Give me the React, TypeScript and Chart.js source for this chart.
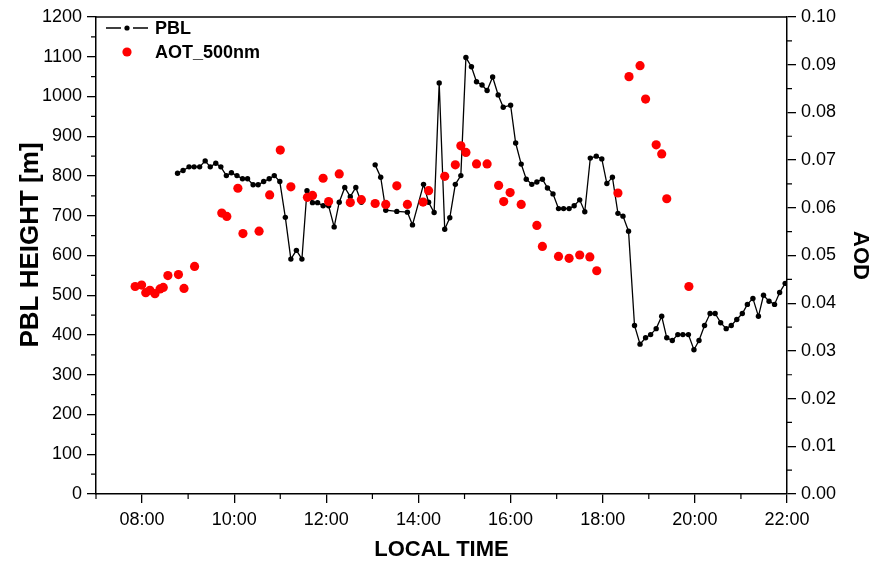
import React, { useEffect, useRef } from 'react';
import { Chart, registerables } from 'chart.js';

Chart.register(...registerables);

// PBL height (m) vs local time (decimal hours); null = gap in record
const pblTime = [
  8.77, 8.89, 9.02, 9.13, 9.25, 9.37, 9.48, 9.6, 9.71, 9.83, 9.94, 10.06, 10.18, 10.29, 10.41, 10.52,
  10.64, 10.76, 10.87, 10.99, 11.11, 11.23, 11.35, 11.47, 11.58, 11.7, 11.81, 11.93, 12.05, 12.17,
  12.28, 12.4, 12.52, 12.64, 12.76, 12.9, 13.06, 13.18, 13.29, 13.53, 13.76, 13.87, 14.11, 14.22,
  14.34, 14.45, 14.57, 14.68, 14.8, 14.92, 15.03, 15.15, 15.26, 15.38, 15.49, 15.61, 15.73, 15.84,
  16.0, 16.11, 16.23, 16.34, 16.46, 16.57, 16.69, 16.8, 16.92, 17.04, 17.15, 17.27, 17.38, 17.5,
  17.61, 17.73, 17.86, 17.98, 18.09, 18.21, 18.33, 18.44, 18.56, 18.69, 18.81, 18.93, 19.04, 19.16,
  19.28, 19.39, 19.51, 19.63, 19.74, 19.86, 19.98, 20.09, 20.21, 20.33, 20.44, 20.56, 20.68, 20.79,
  20.91, 21.03, 21.14, 21.26, 21.38, 21.49, 21.61, 21.73, 21.84, 21.96,
];
const pblHeight = [
  807, 814, 823, 823, 823, 838, 823, 832, 823, 801, 808, 801, 793, 793, 778, 778,
  786, 793, 801, 786, 696, 591, 613, 591, 763, 733, 733, 725, 725, 672,
  734, 771, 748, 771, 734, null, 828, 797, 714, 711, 709, 677, 779, 734,
  708, 1034, 666, 695, 779, 801, 1098, 1075, 1037, 1029, 1015, 1049, 1004, 973,
  978, 883, 830, 792, 779, 785, 792, 770, 755, 718, 718, 718, 725, 740,
  710, 845, 850, 843, 781, 797, 706, 699, 661, 424, 377, 393, 401, 416,
  447, 393, 386, 401, 401, 401, 363, 386, 424, 454, 454, 431, 416, 424,
  439, 454, 477, 492, 447, 500, 485, 477, 507, 530,
];

// AOT at 500 nm vs local time
const aotTime = [
  7.85, 7.99, 8.08, 8.17, 8.28, 8.39, 8.46, 8.56, 8.79, 8.91, 9.14, 9.73, 9.84, 10.08, 10.19, 10.54,
  10.77, 11.0, 11.23, 11.59, 11.7, 11.93, 12.05, 12.28, 12.52, 12.76, 13.06, 13.29, 13.53, 13.76,
  14.1, 14.22, 14.57, 14.8, 14.92, 15.03, 15.26, 15.49, 15.74, 15.85, 15.99, 16.23, 16.57, 16.69,
  17.04, 17.27, 17.5, 17.72, 17.87, 18.33, 18.57, 18.81, 18.93, 19.16, 19.28, 19.39, 19.87,
];
const aotValue = [
  0.0435, 0.0438, 0.0422, 0.0427, 0.042, 0.043, 0.0433, 0.0458, 0.046, 0.0431, 0.0477, 0.0589, 0.0582, 0.0641, 0.0546, 0.0551,
  0.0627, 0.0721, 0.0644, 0.0622, 0.0626, 0.0662, 0.0613, 0.0671, 0.0611, 0.0617, 0.0609, 0.0607, 0.0646, 0.0607,
  0.0612, 0.0636, 0.0666, 0.069, 0.073, 0.0716, 0.0692, 0.0692, 0.0647, 0.0613, 0.0632, 0.0607, 0.0563, 0.0519,
  0.0498, 0.0494, 0.0501, 0.0497, 0.0468, 0.0631, 0.0875, 0.0898, 0.0828, 0.0732, 0.0713, 0.0619, 0.0435,
];

const xTicks = [8, 10, 12, 14, 16, 18, 20, 22];
const xMinorTicks = [7, 9, 11, 13, 15, 17, 19, 21];
const leftTicks = [0, 100, 200, 300, 400, 500, 600, 700, 800, 900, 1000, 1100, 1200];
const rightTicks = [0, 0.01, 0.02, 0.03, 0.04, 0.05, 0.06, 0.07, 0.08, 0.09, 0.1];

const FONT = '"Liberation Sans", Arial, Helvetica, sans-serif';

const decorPlugin = {
  id: 'decor',
  afterDraw(chart: any) {
    const { ctx, chartArea, scales } = chart;
    const { left, right, top, bottom } = chartArea;
    ctx.save();
    ctx.strokeStyle = '#000';
    ctx.lineWidth = 1.5;
    ctx.beginPath();
    ctx.moveTo(left, top);
    ctx.lineTo(right, top);
    ctx.stroke();

    // minor ticks
    ctx.lineWidth = 1.2;
    ctx.beginPath();
    xMinorTicks.forEach((h) => {
      const x = scales.x.getPixelForValue(h);
      ctx.moveTo(x, bottom);
      ctx.lineTo(x, bottom + 5);
    });
    for (let i = 0; i < leftTicks.length - 1; i++) {
      const y = scales.y.getPixelForValue((leftTicks[i] + leftTicks[i + 1]) / 2);
      ctx.moveTo(left, y);
      ctx.lineTo(left - 5, y);
    }
    for (let i = 0; i < rightTicks.length - 1; i++) {
      const y = scales.y2.getPixelForValue((rightTicks[i] + rightTicks[i + 1]) / 2);
      ctx.moveTo(right, y);
      ctx.lineTo(right + 5, y);
    }
    ctx.stroke();

    // axis titles
    ctx.fillStyle = '#000';
    ctx.textAlign = 'center';
    ctx.textBaseline = 'middle';
    ctx.font = `bold 22px ${FONT}`;
    ctx.fillText('LOCAL TIME', (left + right) / 2, 550);

    ctx.save();
    ctx.translate(31, 245);
    ctx.rotate(-Math.PI / 2);
    ctx.font = `bold 26px ${FONT}`;
    ctx.fillText('PBL HEIGHT [m]', 0, 0);
    ctx.restore();

    ctx.save();
    ctx.translate(860, (top + bottom) / 2);
    ctx.rotate(Math.PI / 2);
    ctx.font = `bold 22px ${FONT}`;
    ctx.fillText('AOD', 0, 0);
    ctx.restore();

    // legend
    const r1 = 28;
    const r2 = 52;
    ctx.lineWidth = 1.3;
    ctx.beginPath();
    ctx.moveTo(106, r1);
    ctx.lineTo(121, r1);
    ctx.moveTo(133, r1);
    ctx.lineTo(148, r1);
    ctx.stroke();
    ctx.beginPath();
    ctx.arc(127, r1, 2.6, 0, Math.PI * 2);
    ctx.fill();
    ctx.fillStyle = '#ff0000';
    ctx.beginPath();
    ctx.arc(127, r2, 4.6, 0, Math.PI * 2);
    ctx.fill();
    ctx.fillStyle = '#000';
    ctx.textAlign = 'left';
    ctx.font = `bold 18px ${FONT}`;
    ctx.fillText('PBL', 155, r1 + 1);
    ctx.fillText('AOT_500nm', 155, r2 + 1);
    ctx.restore();
  },
};

export default function App() {
  const ref = useRef<HTMLCanvasElement | null>(null);

  useEffect(() => {
    if (!ref.current) return;
    const tickFont = { family: FONT, size: 18 };
    const chart = new Chart(ref.current, {
      type: 'line',
      data: {
        datasets: [
          {
            label: 'AOT_500nm',
            data: aotTime.map((t, i) => ({ x: t, y: aotValue[i] })),
            yAxisID: 'y2',
            showLine: false,
            pointRadius: 4.6,
            pointBackgroundColor: '#ff0000',
            pointBorderWidth: 0,
            borderColor: '#ff0000',
          },
          {
            label: 'PBL',
            data: pblTime.map((t, i) => ({ x: t, y: pblHeight[i] })),
            yAxisID: 'y',
            borderColor: '#000',
            borderWidth: 1.3,
            pointRadius: 2.7,
            pointBackgroundColor: '#000',
            pointBorderWidth: 0,
            tension: 0,
            spanGaps: false,
          },
        ],
      },
      options: {
        responsive: false,
        animation: false,
        events: [],
        layout: { padding: { top: 17, left: 0, right: 0, bottom: 0 } },
        plugins: { legend: { display: false }, tooltip: { enabled: false } },
        scales: {
          x: {
            type: 'linear',
            min: 7,
            max: 22,
            afterFit: (s: any) => { s.height = 68; },
            afterBuildTicks: (s: any) => { s.ticks = xTicks.map((v) => ({ value: v })); },
            ticks: {
              autoSkip: false,
              maxRotation: 0,
              color: '#000',
              font: tickFont,
              padding: 6,
              callback: (v: any) => `${String(v).padStart(2, '0')}:00`,
            },
            grid: { drawOnChartArea: false, tickLength: 9, color: '#000', lineWidth: 1.3 },
            border: { display: true, color: '#000', width: 1.5 },
          },
          y: {
            type: 'linear',
            position: 'left',
            min: 0,
            max: 1200,
            afterFit: (s: any) => { s.width = 96; },
            afterBuildTicks: (s: any) => { s.ticks = leftTicks.map((v) => ({ value: v })); },
            ticks: { color: '#000', font: tickFont, padding: 5, callback: (v: any) => String(Math.round(Number(v))) },
            grid: { drawOnChartArea: false, tickLength: 9, color: '#000', lineWidth: 1.3 },
            border: { display: true, color: '#000', width: 1.5 },
          },
          y2: {
            type: 'linear',
            position: 'right',
            min: 0,
            max: 0.1,
            afterFit: (s: any) => { s.width = 89; },
            afterBuildTicks: (s: any) => { s.ticks = rightTicks.map((v) => ({ value: v })); },
            ticks: { color: '#000', font: tickFont, padding: 5, callback: (v: any) => Number(v).toFixed(2) },
            grid: { drawOnChartArea: false, tickLength: 9, color: '#000', lineWidth: 1.3 },
            border: { display: true, color: '#000', width: 1.5 },
          },
        },
      },
      plugins: [decorPlugin],
    } as any);
    return () => chart.destroy();
  }, []);

  return (
    <div style={{ position: 'absolute', left: 0, top: 0, width: 876, height: 562, background: '#fff' }}>
      <canvas ref={ref} width={876} height={562} style={{ width: 876, height: 562, display: 'block' }} />
    </div>
  );
}
